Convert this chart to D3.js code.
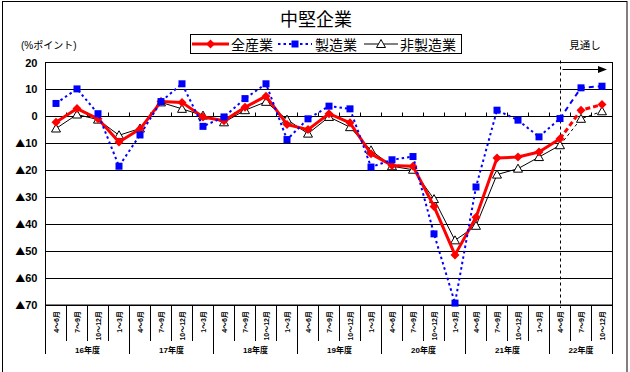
<!DOCTYPE html>
<html>
<head>
<meta charset="utf-8">
<script src="https://cdn.jsdelivr.net/npm/d3@7"></script>
<style>
  body { margin: 0; background: #fff; }
  text { font-family: "Liberation Sans", "Noto Sans CJK JP", sans-serif; }
</style>
</head>
<body>
<div id="chart"></div>
<script>
// category axis: quarter and fiscal year of each point
var quarters = [
  "4～6月", "7～9月", "10～12月", "1～3月",
  "4～6月", "7～9月", "10～12月", "1～3月",
  "4～6月", "7～9月", "10～12月", "1～3月",
  "4～6月", "7～9月", "10～12月", "1～3月",
  "4～6月", "7～9月", "10～12月", "1～3月",
  "4～6月", "7～9月", "10～12月", "1～3月",
  "4～6月", "7～9月", "10～12月"
];
var fiscalYears = [
  "16年度", "16年度", "16年度", "16年度",
  "17年度", "17年度", "17年度", "17年度",
  "18年度", "18年度", "18年度", "18年度",
  "19年度", "19年度", "19年度", "19年度",
  "20年度", "20年度", "20年度", "20年度",
  "21年度", "21年度", "21年度", "21年度",
  "22年度", "22年度", "22年度"
];

// %ポイント
var allIndustry = [-2.2, 2.9, -0.9, -9.5, -4.7, 5.5, 5.2, -0.2, -1.6, 3.4, 7.5, -3.0, -4.9, 1.0,
  -2.4, -13.9, -18.2, -18.5, -33.4, -51.4, -37.4, -15.4, -15.1, -13.2, -8.3, 2.3, 4.4];
var manufacturing = [4.8, 10.2, 1.0, -18.5, -6.9, 5.5, 12.1, -3.7, -0.2, 6.6, 12.1, -8.6, -0.9, 3.8,
  2.8, -18.8, -16.1, -14.9, -43.6, -69.3, -26.2, 2.3, -1.4, -7.6, -0.8, 10.6, 11.2];
var nonManufacturing = [-4.5, 0.7, -1.2, -7.0, -4.5, 5.2, 2.8, 0.3, -2.2, 2.3, 5.4, -1.2, -6.4, -0.2,
  -4.0, -12.6, -18.5, -19.8, -30.7, -46.0, -40.6, -21.6, -19.4, -15.1, -10.7, -0.9, 1.9];

var yTicks = [20, 10, 0, -10, -20, -30, -40, -50, -60, -70];
var forecastFrom = 24; // 見通し starts after this point

var svgWidth = 630;
var svgHeight = 372;
var plot = { left: 45.5, right: 612.5, top: 62.5, bottom: 305 };

var svg = d3
  .select("#chart")
  .append("svg")
  .attr("width", svgWidth)
  .attr("height", svgHeight);

// outer frame
svg.append("rect")
  .attr("x", 2.5).attr("y", 1.5)
  .attr("width", 624.5).attr("height", 400)
  .attr("fill", "none").attr("stroke", "#000");

var xScale = d3.scaleBand().domain(d3.range(quarters.length)).range([plot.left, plot.right]);
var yScale = d3.scaleLinear().domain([-70, 20]).range([plot.bottom, plot.top]);
var bw = xScale.bandwidth();
var xMid = (i) => xScale(i) + bw / 2;
var snap = (v) => Math.round(v - 0.5) + 0.5;

// gridlines
svg.append("g").selectAll("line").data(yTicks).enter().append("line")
  .attr("x1", plot.left).attr("x2", plot.right)
  .attr("y1", (d) => snap(yScale(d))).attr("y2", (d) => snap(yScale(d)))
  .attr("stroke", "#000").attr("stroke-width", 1);

// plot frame
svg.append("rect")
  .attr("x", plot.left).attr("y", plot.top)
  .attr("width", plot.right - plot.left).attr("height", plot.bottom - plot.top)
  .attr("fill", "none").attr("stroke", "#000");

// y axis labels (negatives written with ▲)
var leftAxis = d3.axisLeft(yScale)
  .tickValues(yTicks)
  .tickFormat((d) => Math.abs(d))
  .tickSize(0)
  .tickPadding(8);
var yAxisG = svg.append("g").attr("transform", `translate(${plot.left},0)`).call(leftAxis);
yAxisG.select(".domain").remove();
yAxisG.selectAll("text")
  .style("font-size", "11px").style("font-weight", "bold").attr("fill", "#000")
  .each(function (d) {
    if (d >= 0) return;
    var t = d3.select(this);
    t.text(null);
    t.append("tspan").text("▲").style("font-family", '"Noto Sans CJK JP", sans-serif').style("font-size", "10px");
    t.append("tspan").text(-d);
  });

// category tick marks on the zero line
var y0 = snap(yScale(0));
svg.append("g").selectAll("line").data(d3.range(1, quarters.length)).enter().append("line")
  .attr("x1", (i) => snap(xScale(i))).attr("x2", (i) => snap(xScale(i)))
  .attr("y1", y0 - 4).attr("y2", y0)
  .attr("stroke", "#000");

// separators under the plot
var yearStart = d3.range(quarters.length + 1).map(
  (k) => k === 0 || k === quarters.length || fiscalYears[k] !== fiscalYears[k - 1]
);
svg.append("g").selectAll("line").data(d3.range(quarters.length + 1)).enter().append("line")
  .attr("x1", (k) => snap(plot.left + k * bw)).attr("x2", (k) => snap(plot.left + k * bw))
  .attr("y1", plot.bottom).attr("y2", (k) => (yearStart[k] ? 354 : 341))
  .attr("stroke", "#000");

// quarter labels (rotated)
svg.append("g").selectAll("text").data(quarters).enter().append("text")
  .text((d) => d)
  .attr("transform", (d, i) => `translate(${xMid(i) + 2.5},311) rotate(-90)`)
  .attr("text-anchor", "end")
  .style("font-size", "7px").style("font-weight", "bold");

// fiscal year labels
var groups = d3.groups(d3.range(quarters.length), (i) => fiscalYears[i]);
svg.append("g").selectAll("text").data(groups).enter().append("text")
  .text((d) => d[0])
  .attr("x", (d) => (xMid(d[1][0]) + xMid(d[1][d[1].length - 1])) / 2)
  .attr("y", 353)
  .attr("text-anchor", "middle")
  .style("font-size", "8px").style("font-weight", "bold");

// 見通し divider and arrow
var xf = snap(xMid(forecastFrom));
svg.append("line")
  .attr("x1", xf).attr("x2", xf).attr("y1", plot.top - 2).attr("y2", plot.bottom + 3)
  .attr("stroke", "#000").attr("stroke-dasharray", "3,3");
svg.append("line")
  .attr("x1", xf + 2).attr("x2", 600).attr("y1", 69.5).attr("y2", 69.5)
  .attr("stroke", "#000");
svg.append("path").attr("d", "M598,66L607,69.5L598,73Z").attr("fill", "#000");
svg.append("text").text("見通し")
  .attr("x", 585).attr("y", 49).attr("text-anchor", "middle")
  .style("font-size", "10.5px");

// series
var series = [
  { name: "非製造業", values: nonManufacturing, color: "#000", width: 1, dash: null, fdash: "3,3", marker: "triangle" },
  { name: "全産業", values: allIndustry, color: "#ff0000", width: 3, dash: null, fdash: "5,3", marker: "diamond" },
  { name: "製造業", values: manufacturing, color: "#0000ff", width: 2, dash: "2.5,3", fdash: "5,4", marker: "square" }
];

var markerPath = {
  diamond: "M0,-4.5L4.5,0L0,4.5L-4.5,0Z",
  square: "M-3.5,-3.5H3.5V3.5H-3.5Z",
  triangle: "M0,-4.5L4.5,3.5L-4.5,3.5Z"
};
var markerFill = (s) => (s.marker === "triangle" ? "#fff" : s.color);

var line = d3.line().x((d) => xMid(d.i)).y((d) => yScale(d.v));

series.forEach(function (s) {
  var pts = s.values.map((v, i) => ({ i: i, v: v }));
  var g = svg.append("g");
  g.append("path")
    .attr("d", line(pts.filter((d) => d.i <= forecastFrom)))
    .attr("fill", "none").attr("stroke", s.color).attr("stroke-width", s.width)
    .attr("stroke-dasharray", s.dash).attr("stroke-linejoin", "round");
  g.append("path")
    .attr("d", line(pts.filter((d) => d.i >= forecastFrom)))
    .attr("fill", "none").attr("stroke", s.color).attr("stroke-width", s.width)
    .attr("stroke-dasharray", s.fdash);
  g.selectAll(".m").data(pts).enter().append("path")
    .attr("d", markerPath[s.marker])
    .attr("transform", (d) => `translate(${xMid(d.i)},${yScale(d.v)})`)
    .attr("fill", markerFill(s))
    .attr("stroke", s.marker === "triangle" ? "#000" : "none");
});

// title
svg.append("text").text("中堅企業")
  .attr("x", 316).attr("y", 26).attr("text-anchor", "middle")
  .style("font-size", "18px");

svg.append("text").text("(%ポイント)")
  .attr("x", 21).attr("y", 49)
  .style("font-size", "10px");

// legend
var legend = svg.append("g");
legend.append("rect")
  .attr("x", 190.5).attr("y", 34.5).attr("width", 271).attr("height", 19)
  .attr("fill", "#fff").attr("stroke", "#000");
var legendItems = [
  { s: series[1], x1: 192, x2: 229, tx: 231 },
  { s: series[2], x1: 278, x2: 312, tx: 315 },
  { s: series[0], x1: 364, x2: 398, tx: 400 }
];
legendItems.forEach(function (d) {
  legend.append("line")
    .attr("x1", d.x1).attr("x2", d.x2).attr("y1", 44).attr("y2", 44)
    .attr("stroke", d.s.color).attr("stroke-width", d.s.width)
    .attr("stroke-dasharray", d.s.dash);
  legend.append("path")
    .attr("d", markerPath[d.s.marker])
    .attr("transform", `translate(${(d.x1 + d.x2) / 2},44)`)
    .attr("fill", markerFill(d.s))
    .attr("stroke", d.s.marker === "triangle" ? "#000" : "none");
  legend.append("text").text(d.s.name)
    .attr("x", d.tx).attr("y", 49.5)
    .style("font-size", "14px");
});
</script>
</body>
</html>
